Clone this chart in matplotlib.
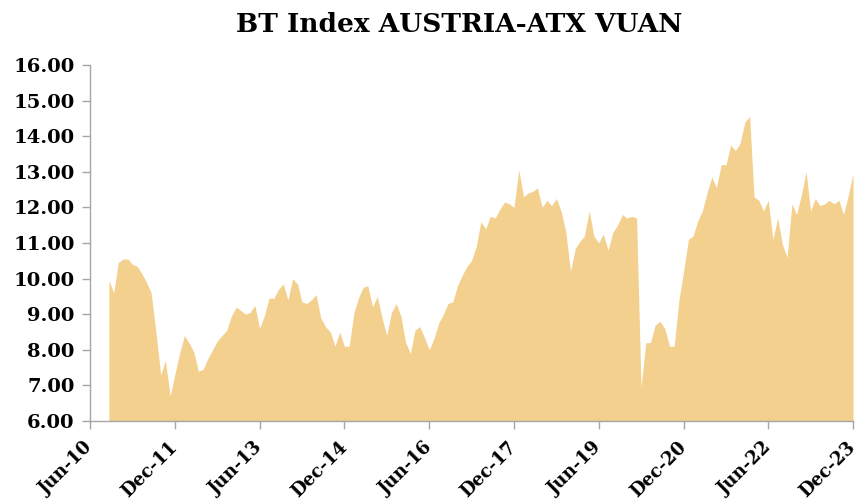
import matplotlib
matplotlib.use("Agg")
import matplotlib.pyplot as plt
import pandas as pd

title = "BT Index AUSTRIA-ATX VUAN"
start_month = "2010-10-01"
end_month = "2023-12-01"
values = [
    9.95, 9.6, 10.45, 10.55, 10.55, 10.4, 10.35, 10.15, 9.9, 9.6,
    8.5, 7.3, 7.7, 6.7, 7.3, 7.9, 8.4, 8.2, 7.95, 7.4,
    7.45, 7.75, 8.0, 8.25, 8.4, 8.55, 8.95, 9.2, 9.1, 9.0,
    9.05, 9.25, 8.6, 8.95, 9.45, 9.45, 9.7, 9.85, 9.4, 10.0,
    9.85, 9.35, 9.3, 9.4, 9.55, 8.9, 8.65, 8.5, 8.1, 8.5,
    8.1, 8.1, 9.05, 9.45, 9.75, 9.8, 9.2, 9.5, 8.9, 8.4,
    9.05, 9.3, 8.95, 8.2, 7.9, 8.55, 8.65, 8.35, 8.0, 8.3,
    8.75, 9.0, 9.3, 9.35, 9.8, 10.1, 10.35, 10.5, 10.9, 11.6,
    11.4, 11.75, 11.7, 11.95, 12.15, 12.1, 12.0, 13.05, 12.3, 12.4,
    12.45, 12.55, 12.0, 12.2, 12.05, 12.25, 11.9, 11.3, 10.2, 10.85,
    11.05, 11.2, 11.9, 11.2, 11.0, 11.25, 10.8, 11.3, 11.5, 11.8,
    11.7, 11.75, 11.7, 6.95, 8.2, 8.2, 8.7, 8.8, 8.6, 8.1,
    8.1, 9.4, 10.2, 11.1, 11.2, 11.6, 11.9, 12.4, 12.85, 12.55,
    13.2, 13.2, 13.75, 13.6, 13.8, 14.4, 14.55, 12.3, 12.2, 11.9,
    12.2, 11.1, 11.7, 10.95, 10.6, 12.1, 11.8, 12.35, 13.0, 11.9,
    12.25, 12.05, 12.1, 12.2, 12.1, 12.2, 11.8, 12.35, 12.95,
]
tick_dates = ["2010-06-01", "2011-12-01", "2013-06-01", "2014-12-01", "2016-06-01",
              "2017-12-01", "2019-06-01", "2020-12-01", "2022-06-01", "2023-12-01"]
tick_labels = ["Jun-10", "Dec-11", "Jun-13", "Dec-14", "Jun-16",
               "Dec-17", "Jun-19", "Dec-20", "Jun-22", "Dec-23"]
y_ticks = [6, 7, 8, 9, 10, 11, 12, 13, 14, 15, 16]

dates = pd.date_range(start_month, end_month, freq="MS")
tdates = pd.to_datetime(tick_dates)

fig = plt.figure(figsize=(8.62, 5.0), dpi=100)
ax = fig.add_axes([0.1044, 0.158, 0.8852, 0.712])

ax.fill_between(dates, values, 6, color="#F3D08D", linewidth=0)

ax.set_xlim(tdates[0], tdates[-1])
ax.set_ylim(6, 16)
ax.set_yticks(y_ticks)
ax.set_yticklabels([f"{v:.2f}" for v in y_ticks])
ax.set_xticks(tdates)
ax.set_xticklabels(tick_labels)

for lab in ax.get_yticklabels():
    lab.set_fontfamily("DejaVu Serif")
    lab.set_fontweight("bold")
    lab.set_fontsize(14)
for lab in ax.get_xticklabels():
    lab.set_fontfamily("DejaVu Serif")
    lab.set_fontweight("bold")
    lab.set_fontsize(13)
    lab.set_rotation(45)
    lab.set_ha("right")
    lab.set_va("center")
    lab.set_rotation_mode("anchor")

for s in ["top", "right"]:
    ax.spines[s].set_visible(False)
for s in ["left", "bottom"]:
    ax.spines[s].set_color("#A6A6A6")
    ax.spines[s].set_linewidth(1.0)
ax.tick_params(axis="both", direction="out", color="#A6A6A6", length=6, width=1.0)
ax.tick_params(axis="y", pad=5)
ax.tick_params(axis="x", pad=11)

fig.text(0.533, 0.95, title, ha="center", va="center", fontsize=19,
         family="DejaVu Serif", weight="bold")

fig.savefig("out.png", dpi=100)
